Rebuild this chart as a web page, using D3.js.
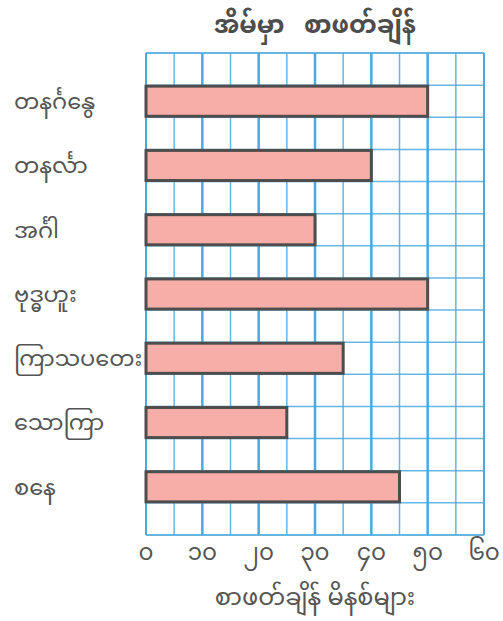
<!DOCTYPE html>
<html>
<head>
<meta charset="utf-8">
<script src="https://cdn.jsdelivr.net/npm/d3@7"></script>
<style>
body { margin: 0; background: #fff; }
text { font-family: "Noto Sans Myanmar", "Padauk", "Myanmar Text", "Noto Sans", sans-serif; fill: #555; white-space: pre; }
</style>
</head>
<body>
<main></main>
<script>
const days = ["တနင်္ဂနွေ", "တနင်္လာ", "အင်္ဂါ", "ဗုဒ္ဓဟူး", "ကြာသပတေး", "သောကြာ", "စနေ"];
const minutes = [50, 40, 30, 50, 35, 25, 45];
const tickValues = [0, 10, 20, 30, 40, 50, 60];
const tickLabels = ["၀", "၁၀", "၂၀", "၃၀", "၄၀", "၅၀", "၆၀"];
const title = "အိမ်မှာ   စာဖတ်ချိန်";
const xTitle = "စာဖတ်ချိန် မိနစ်များ";

const w = 503, h = 621,
	padL = 146, padR = 484, padT = 53, padB = 535,
	gridColor = "#4ba9df";

const svg = d3.select("main").append("svg")
	.attr("width", w)
	.attr("height", h);

const xScale = d3.scaleLinear().domain([0, 60]).range([padL, padR]);
const yScale = d3.scaleBand().domain(days).range([padT, padB]).paddingInner(0.5).paddingOuter(0.5);
// rows of the grid: each row is half a band step
const rowScale = d3.scaleLinear().domain([0, 15]).range([padT, padB]);

// vertical grid every 5 minutes, thicker every 10
svg.append("g").selectAll("line")
	.data(d3.range(0, 61, 5))
	.enter().append("line")
	.attr("x1", d => xScale(d)).attr("x2", d => xScale(d))
	.attr("y1", padT).attr("y2", padB)
	.attr("stroke", gridColor)
	.attr("stroke-opacity", d => d % 10 === 0 ? 1 : 0.85)
	.attr("stroke-width", d => (d === 0 || d === 60) ? 2 : d % 10 === 0 ? 2.5 : 1.5);

// horizontal grid
svg.append("g").selectAll("line")
	.data(d3.range(0, 16))
	.enter().append("line")
	.attr("x1", padL).attr("x2", padR)
	.attr("y1", d => rowScale(d)).attr("y2", d => rowScale(d))
	.attr("stroke", gridColor)
	.attr("stroke-opacity", 0.85)
	.attr("stroke-width", d => (d === 0 || d === 15) ? 2 : 1.5);

svg.append("g").selectAll("rect")
	.data(minutes)
	.enter().append("rect")
	.attr("x", xScale(0))
	.attr("y", (d, i) => yScale(days[i]) + 1)
	.attr("width", d => xScale(d) - xScale(0))
	.attr("height", yScale.bandwidth() - 2)
	.attr("fill", "#f8aea8")
	.attr("stroke", "#4d4d4d")
	.attr("stroke-width", 3);

// category labels
svg.append("g").selectAll("text")
	.data(days)
	.enter().append("text")
	.attr("x", 14)
	.attr("y", d => yScale(d) + yScale.bandwidth() / 2)
	.attr("dy", "0.35em")
	.style("font-size", "22.5px")
	.text(d => d);

// tick labels
svg.append("g").selectAll("text")
	.data(tickValues)
	.enter().append("text")
	.attr("x", d => xScale(d))
	.attr("y", 560)
	.attr("text-anchor", "middle")
	.style("font-size", "23px")
	.text((d, i) => tickLabels[i]);

svg.append("text")
	.attr("x", (padL + padR) / 2)
	.attr("y", 605)
	.attr("text-anchor", "middle")
	.style("font-size", "24px")
	.text(xTitle);

svg.append("text")
	.attr("x", (padL + padR) / 2)
	.attr("y", 33)
	.attr("text-anchor", "middle")
	.style("font-size", "25px")
	.style("font-weight", "bold")
	.style("fill", "#4d4d4d")
	.text(title);
</script>
</body>
</html>
